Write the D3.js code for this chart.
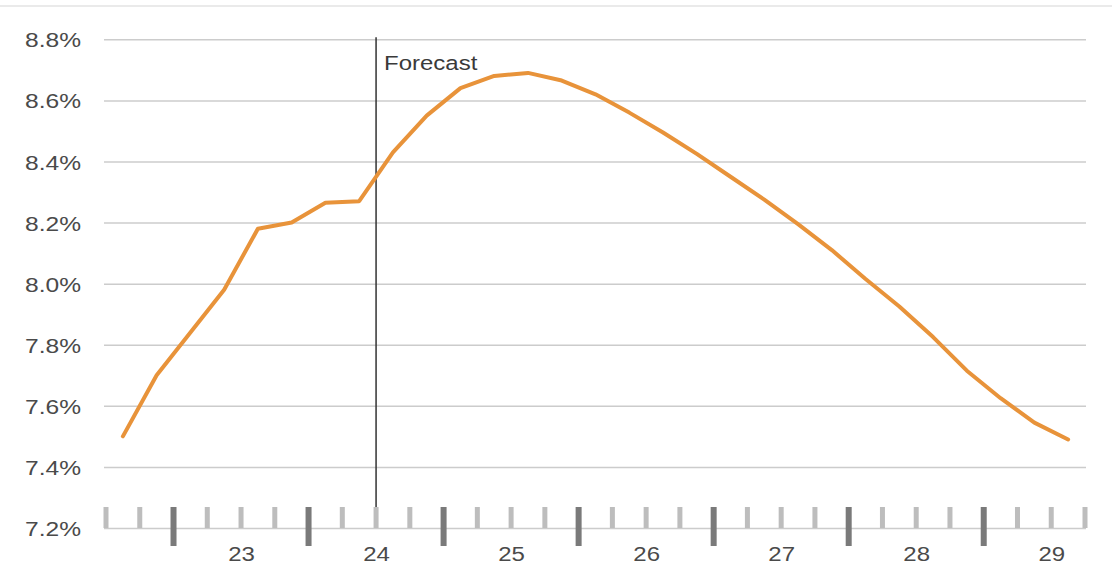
<!DOCTYPE html>
<html>
<head>
<meta charset="utf-8">
<script src="https://cdn.jsdelivr.net/npm/d3@7"></script>
<style>
  html, body { margin: 0; padding: 0; background: #fff; }
  svg { display: block; font-family: "Liberation Sans", Arial, sans-serif; }
</style>
</head>
<body>
<svg id="chart" width="1112" height="566"></svg>
<script>
// Quarterly rate, 2022 Q3 – 2029 Q3 (forecast from 2024 Q3)
const quarters = [
  "2022Q3","2022Q4",
  "2023Q1","2023Q2","2023Q3","2023Q4",
  "2024Q1","2024Q2","2024Q3","2024Q4",
  "2025Q1","2025Q2","2025Q3","2025Q4",
  "2026Q1","2026Q2","2026Q3","2026Q4",
  "2027Q1","2027Q2","2027Q3","2027Q4",
  "2028Q1","2028Q2","2028Q3","2028Q4",
  "2029Q1","2029Q2","2029Q3"
];
const rates = [
  7.50, 7.70,
  7.84, 7.98, 8.18, 8.20,
  8.265, 8.27, 8.43, 8.55,
  8.64, 8.68, 8.69, 8.665,
  8.62, 8.56, 8.495, 8.425,
  8.35, 8.275, 8.195, 8.11,
  8.015, 7.925, 7.825, 7.715,
  7.625, 7.545, 7.49
];
const yTicks = [7.2, 7.4, 7.6, 7.8, 8.0, 8.2, 8.4, 8.6, 8.8];
const yearLabels = ["23", "24", "25", "26", "27", "28", "29"];
const forecastStart = 2024.5;
const forecastLabel = "Forecast";

// quarter string -> decimal year at the middle of the quarter
const qMid = q => +q.slice(0, 4) + (+q.slice(5) - 0.5) / 4;
const data = quarters.map((q, i) => ({ t: qMid(q), v: rates[i] }));

const svg = d3.select("#chart");
const plotLeft = 104, plotRight = 1085, plotTop = 39.3, plotBottom = 528;
const sx = 1.17; // horizontal text stretch

const x = d3.scaleLinear().domain([2022.5, 2029.75]).range([plotLeft + 2, plotRight]);
const y = d3.scaleLinear().domain([7.2, 8.8]).range([plotBottom, plotTop]);

// thin rule across the top
svg.append("line")
  .attr("x1", 0).attr("x2", 1112).attr("y1", 6).attr("y2", 6)
  .attr("stroke", "#e3e3e3").attr("stroke-width", 1.5);

// y axis with gridlines
const yAxis = svg.append("g")
  .attr("transform", `translate(${plotLeft},0)`)
  .call(d3.axisLeft(y)
    .tickValues(yTicks)
    .tickSize(-(plotRight - plotLeft + 1))
    .tickPadding(0)
    .tickFormat(d => d.toFixed(1) + "%"));
yAxis.select(".domain").remove();
yAxis.selectAll(".tick line")
  .attr("stroke", "#cccccc").attr("stroke-width", 1.5);
yAxis.selectAll(".tick text")
  .attr("x", -23 / sx)
  .attr("dy", "0.36em")
  .attr("transform", `scale(${sx},1)`)
  .attr("fill", "#4a4a4a")
  .style("font-size", "21px");

// quarter ticks along the bottom
const tickT = d3.range(0, 30).map(i => 2022.5 + i / 4);
svg.append("g").selectAll("rect")
  .data(tickT)
  .join("rect")
  .attr("x", d => x(d) - (Number.isInteger(d) ? 3 : 2.5))
  .attr("width", d => Number.isInteger(d) ? 6 : 5)
  .attr("y", 507)
  .attr("height", d => Number.isInteger(d) ? 39 : 21)
  .attr("fill", d => Number.isInteger(d) ? "#7a7a7a" : "#bdbdbd");

// year labels centred on each year
const xAxis = svg.append("g")
  .attr("transform", `translate(0,${plotBottom})`)
  .call(d3.axisBottom(x)
    .tickValues(yearLabels.map(s => 2000 + +s + 0.5))
    .tickSize(0)
    .tickFormat((d, i) => yearLabels[i]));
xAxis.select(".domain").remove();
xAxis.selectAll(".tick text")
  .attr("y", 33.5).attr("dy", 0)
  .attr("transform", `scale(${sx},1)`)
  .attr("fill", "#4a4a4a")
  .style("font-size", "20.5px");

// forecast divider
svg.append("line")
  .attr("x1", x(forecastStart)).attr("x2", x(forecastStart))
  .attr("y1", plotTop - 2).attr("y2", 507)
  .attr("stroke", "#333").attr("stroke-width", 1.5);
svg.append("text")
  .attr("transform", `translate(${x(forecastStart) + 8},70) scale(${sx},1)`)
  .attr("fill", "#3a3a3a")
  .style("font-size", "20.5px")
  .text(forecastLabel);

// series line
svg.append("path")
  .datum(data)
  .attr("fill", "none")
  .attr("stroke", "#e8933a")
  .attr("stroke-width", 4)
  .attr("stroke-linejoin", "round")
  .attr("stroke-linecap", "round")
  .attr("d", d3.line().x(d => x(d.t)).y(d => y(d.v)));
</script>
</body>
</html>
